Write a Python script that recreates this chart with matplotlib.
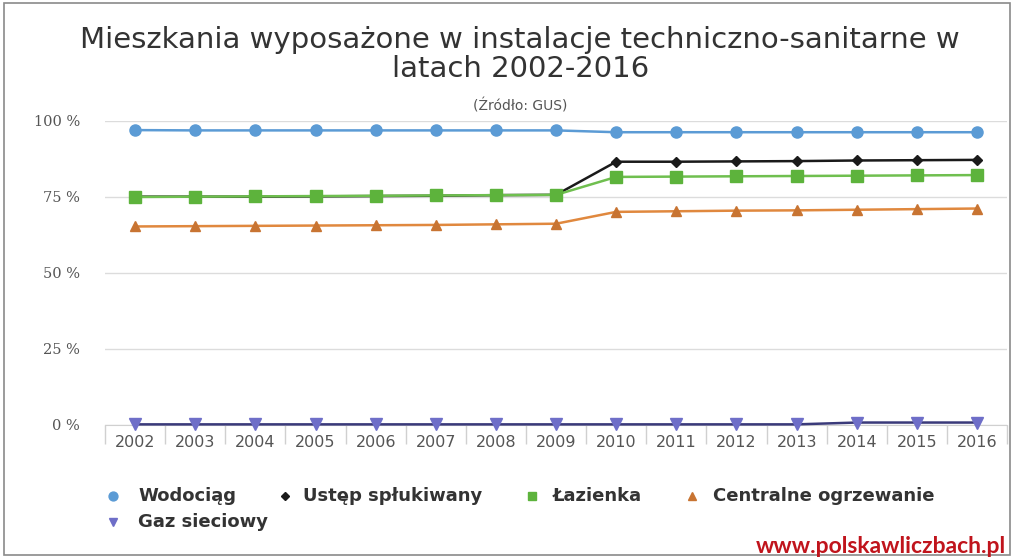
import matplotlib
matplotlib.use("Agg")
import matplotlib.pyplot as plt
from matplotlib.lines import Line2D
from matplotlib.patches import Rectangle

lata = ["2002", "2003", "2004", "2005", "2006", "2007", "2008", "2009",
        "2010", "2011", "2012", "2013", "2014", "2015", "2016"]

wodociag = [97.0, 96.9, 96.9, 96.9, 96.9, 96.9, 96.9, 96.9,
            96.3, 96.3, 96.3, 96.3, 96.3, 96.3, 96.3]
ustep = [75.1, 75.1, 75.1, 75.2, 75.3, 75.4, 75.6, 75.7,
         86.6, 86.6, 86.7, 86.8, 87.0, 87.1, 87.2]
lazienka = [75.0, 75.1, 75.2, 75.3, 75.4, 75.5, 75.6, 75.7,
            81.6, 81.7, 81.8, 81.9, 82.0, 82.1, 82.2]
centralne = [65.3, 65.4, 65.5, 65.6, 65.7, 65.8, 66.0, 66.2,
             70.1, 70.3, 70.5, 70.6, 70.8, 71.0, 71.2]
gaz = [0.2, 0.2, 0.2, 0.2, 0.2, 0.2, 0.2, 0.2,
       0.2, 0.2, 0.2, 0.2, 0.8, 0.8, 0.8]

y_ticks = [0, 25, 50, 75, 100]
y_labels = ["0 %", "25 %", "50 %", "75 %", "100 %"]

serie = [
    ("Wodociąg", wodociag, "#5B9BD5", "#5B9BD5", "o", 8),
    ("Ustęp spłukiwany", ustep, "#1a1a1a", "#1a1a1a", "D", 5.5),
    ("Łazienka", lazienka, "#6FBF4F", "#5DB33C", "s", 8),
    ("Centralne ogrzewanie", centralne, "#E0883E", "#C87432", "^", 7.5),
    ("Gaz sieciowy", gaz, "#3a3a7a", "#6E6EC8", "v", 8),
]

W, H = 1014, 558
fig = plt.figure(figsize=(W / 100, H / 100), dpi=100)
ax = fig.add_axes([0.1036, 0.2384, 0.8896, 0.5448])

x = list(range(len(lata)))
for nazwa, dane, kolor_linii, kolor_markera, marker, ms in serie:
    ax.plot(x, dane, color=kolor_linii, linewidth=1.8, zorder=3, clip_on=False)
    ax.plot(x, dane, linestyle="none", marker=marker, markersize=ms,
            color=kolor_markera, markeredgecolor=kolor_markera, zorder=4, clip_on=False)

ax.set_xlim(-0.5, len(lata) - 0.5)
ax.set_ylim(0, 100)
ax.set_yticks(y_ticks)
ax.set_yticklabels(y_labels)
ax.set_xticks(x)
ax.set_xticklabels(lata)
ax.set_xticks([i - 0.5 for i in range(len(lata) + 1)], minor=True)
ax.tick_params(axis="x", which="major", length=0, pad=7, labelsize=11.5, labelcolor="#555555")
ax.tick_params(axis="x", which="minor", length=14, color="#d0d0d0", width=1)
ax.tick_params(axis="y", length=0, pad=18, labelsize=10.5, labelcolor="#555555")
for lbl in ax.get_yticklabels():
    lbl.set_family("DejaVu Serif")
ax.grid(axis="y", color="#dcdcdc", linewidth=1)
for s in ["top", "right", "left"]:
    ax.spines[s].set_visible(False)
ax.spines["bottom"].set_color("#d0d0d0")
ax.set_axisbelow(True)

fig.text(0.513, 0.928, "Mieszkania wyposażone w instalacje techniczno-sanitarne w",
         ha="center", va="center", fontsize=21, color="#333333")
fig.text(0.513, 0.876, "latach 2002-2016", ha="center", va="center", fontsize=21, color="#333333")
fig.text(0.513, 0.81, "(Źródło: GUS)", ha="center", va="center", fontsize=10, color="#555555")

# legenda recznie, w pikselach (x markera, x tekstu, y wiersza)
pozycje = [(113, 138, 496), (285, 303, 496), (532, 553, 496), (692, 713, 496), (113, 138, 522)]
for (nazwa, dane, kolor_linii, kolor_markera, marker, ms), (xm, xt, yr) in zip(serie, pozycje):
    fig.add_artist(Line2D([xm / W], [1 - yr / H], transform=fig.transFigure, linestyle="none",
                          marker=marker, markersize=ms * 0.8, color=kolor_markera))
    fig.text(xt / W, 1 - yr / H, nazwa, ha="left", va="center", fontsize=13,
             fontweight="bold", family="DejaVu Sans", color="#333333")

fig.text(0.992, 0.02, "www.polskawliczbach.pl", ha="right", va="center",
         fontsize=16.5, fontweight="bold", family="Lato", color="#C0141C")

fig.patches.append(Rectangle((0.004, 0.006), 0.992, 0.988, transform=fig.transFigure,
                             fill=False, edgecolor="#8a8a8a", linewidth=1.2))

fig.savefig("out.png", dpi=100)
